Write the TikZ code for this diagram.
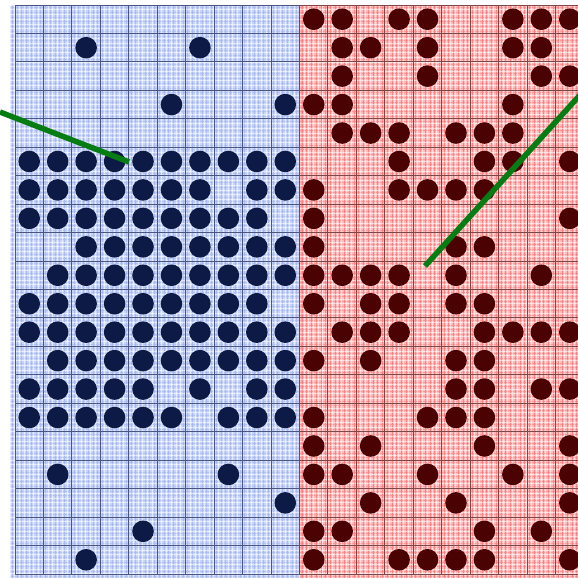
\documentclass[tikz,border=0pt]{standalone}
\begin{document}
\begin{tikzpicture}[x=1pt,y=-1pt]
\definecolor{bluebg}{HTML}{C9D6FA}
\definecolor{redbg}{HTML}{FFBDBD}
\definecolor{bluestripe}{HTML}{A9BAF0}
\definecolor{redstripe}{HTML}{FF8080}
\definecolor{bluegrid}{HTML}{4A5582}
\definecolor{redgrid}{HTML}{804545}
\definecolor{bluedotc}{HTML}{0C1A45}
\definecolor{reddotc}{HTML}{4A0202}
\definecolor{lineg}{HTML}{067D12}
\tikzset{
  bluedot/.style={fill=bluedotc},
  reddot/.style={fill=reddotc},
  finew/.style={white,line width=0.7pt,opacity=0.55},
  bgridline/.style={bluegrid,line width=1pt},
  rgridline/.style={redgrid,line width=1pt},
  greenline/.style={lineg,line width=5.5pt}
}
\def\cs{28.45}
\useasboundingbox (0,0) rectangle (578,579);
% backgrounds
\fill[bluebg] (10,5) rectangle (299.5,578);
\fill[redbg] (299.5,5) rectangle (578,578);
% fine stripes
\foreach \i in {0,...,62} {
  \draw[bluestripe,line width=0.8pt] ({12.4+4.74*\i},5) -- ({12.4+4.74*\i},578);
}
\foreach \i in {0,...,59} {
  \draw[redstripe,line width=0.9pt] ({302+4.74*\i},5) -- ({302+4.74*\i},578);
}
\foreach \i in {0,...,121} {
  \draw[bluestripe,line width=0.6pt,opacity=0.7] (10,{7.4+4.74*\i}) -- (299.5,{7.4+4.74*\i});
  \draw[redstripe,line width=0.6pt,opacity=0.6] (299.5,{7.4+4.74*\i}) -- (578,{7.4+4.74*\i});
}
% white fine dotted overlay
\foreach \i in {0,...,121} {
  \draw[finew] (10,{5+4.74*\i}) -- (578,{5+4.74*\i});
}
\foreach \i in {0,...,120} {
  \draw[finew] ({10+4.74*\i},5) -- ({10+4.74*\i},578);
}
% dots
\foreach \r/\cl in {1/{2,6},3/{5,9},5/{0,...,9},6/{0,...,6,8,9},7/{0,...,8},8/{2,...,9},
  9/{1,...,9},10/{0,...,8},11/{0,...,9},12/{1,...,9},13/{0,1,2,3,4,6,8,9},
  14/{0,...,5,7,8,9},16/{1,7},17/{9},18/{4},19/{2}} {
  \foreach \c in \cl {
    \fill[bluedot] ({15+\cs*(\c+0.5)},{5+\cs*(\r+0.5)}) circle (10.8);
  }
}
\foreach \r/\cl in {0/{10,11,13,14,17,18,19},1/{11,12,14,17,18},2/{11,14,18,19},
  3/{10,11,17},4/{11,12,13,15,16,17},5/{13,16,17,19},6/{10,13,14,15,16},
  7/{10,19},8/{10,15,16},9/{10,11,12,13,15,18},10/{10,12,13,15,16},
  11/{11,12,13,16,17,18,19},12/{10,12,15,16},13/{15,16,18,19},14/{10,14,15,16},
  15/{10,12,16,19},16/{10,11,14,17,19},17/{12,15,19},18/{10,11,16,18},
  19/{10,13,14,15,16,19}} {
  \foreach \c in \cl {
    \fill[reddot] ({15+\cs*(\c+0.5)},{5+\cs*(\r+0.5)}) circle (10.8);
  }
}
% main grid
\foreach \i in {0,...,10} {
  \draw[bgridline] ({15+\cs*\i},5) -- ({15+\cs*\i},574);
}
\foreach \i in {11,...,20} {
  \draw[rgridline] ({15+\cs*\i},5) -- ({15+\cs*\i},574);
}
\foreach \j in {0,...,20} {
  \draw[bgridline] (15,{5+\cs*\j}) -- (299.5,{5+\cs*\j});
  \draw[rgridline] (299.5,{5+\cs*\j}) -- (583,{5+\cs*\j});
}
% green lines
\coordinate (a1) at (0,112);
\coordinate (a2) at (129,162);
\coordinate (b1) at (425,266);
\coordinate (b2) at (580,95);
\draw[greenline] (a1) -- (a2);
\draw[greenline] (b1) -- (b2);
\end{tikzpicture}
\end{document}
